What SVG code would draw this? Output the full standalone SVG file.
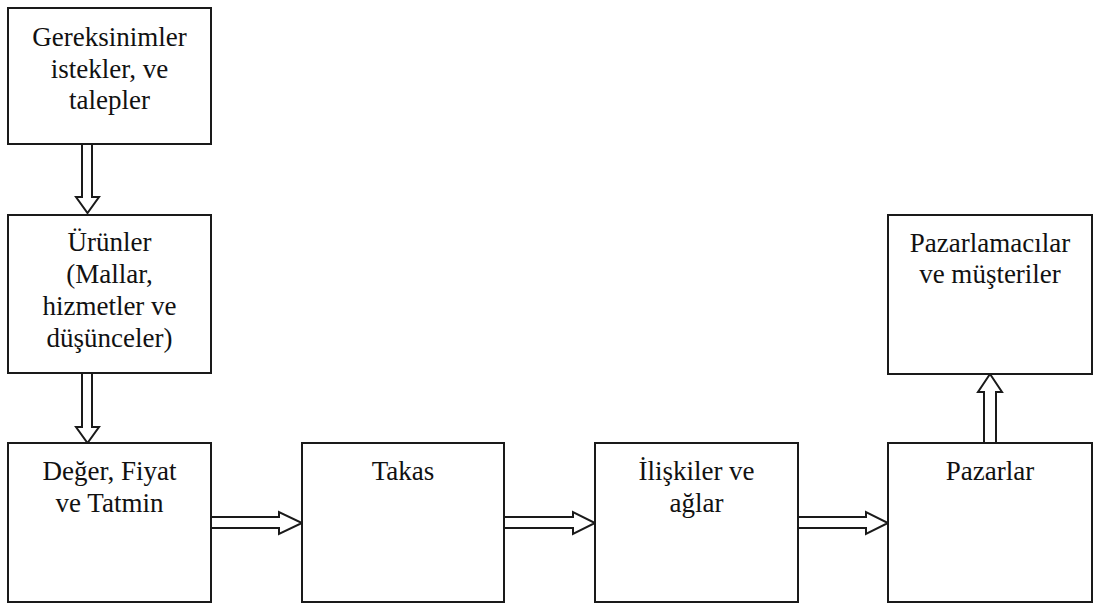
<svg xmlns="http://www.w3.org/2000/svg" width="1095" height="604" viewBox="0 0 1095 604">
  <style>
    .box { fill: #ffffff; stroke: #1a1a1a; stroke-width: 2; }
    .arrow { fill: #ffffff; stroke: #1a1a1a; stroke-width: 2; stroke-linejoin: miter; }
    .label { font-family: 'Liberation Serif', 'Times New Roman', Tinos, 'DejaVu Serif', serif; font-size: 27px; fill: #111111; text-anchor: middle; }
  </style>
  <rect width="1095" height="604" fill="#ffffff"/>

  <!-- hollow block arrows between the boxes -->
  <g id="connectors">
    <polygon class="arrow" points="82,144 92,144 92,197 99,197 87.5,213 76,197 82,197"/>
    <polygon class="arrow" points="82,373 92,373 92,427 99,427 87.5,443 76,427 82,427"/>
    <polygon class="arrow" points="211,517 279,517 279,512 302,523 279,534 279,528 211,528"/>
    <polygon class="arrow" points="504,517 573,517 573,512 595,523 573,534 573,528 504,528"/>
    <polygon class="arrow" points="798,517 866,517 866,512 888,523 866,534 866,528 798,528"/>
    <polygon class="arrow" points="984,443 984,392 978,392 990,374 1002,392 996,392 996,443"/>
  </g>

  <g id="needs">
    <rect class="box" x="8" y="8" width="203" height="136"/>
    <text class="label" x="109.5" y="46">Gereksinimler</text>
    <text class="label" x="109.5" y="78">istekler, ve</text>
    <text class="label" x="109.5" y="109">talepler</text>
  </g>

  <g id="products">
    <rect class="box" x="8" y="215" width="203" height="158"/>
    <text class="label" x="109.5" y="251">Ürünler</text>
    <text class="label" x="109.5" y="283">(Mallar,</text>
    <text class="label" x="109.5" y="315">hizmetler ve</text>
    <text class="label" x="109.5" y="347">düşünceler)</text>
  </g>

  <g id="value">
    <rect class="box" x="8" y="443" width="203" height="159"/>
    <text class="label" x="109.5" y="480">Değer, Fiyat</text>
    <text class="label" x="109.5" y="512">ve Tatmin</text>
  </g>

  <g id="exchange">
    <rect class="box" x="302" y="443" width="202" height="159"/>
    <text class="label" x="403" y="480">Takas</text>
  </g>

  <g id="relations">
    <rect class="box" x="595" y="443" width="203" height="159"/>
    <text class="label" x="696.5" y="480">İlişkiler ve</text>
    <text class="label" x="696.5" y="512">ağlar</text>
  </g>

  <g id="markets">
    <rect class="box" x="888" y="443" width="204" height="159"/>
    <text class="label" x="990" y="480">Pazarlar</text>
  </g>

  <g id="marketers">
    <rect class="box" x="888" y="215" width="204" height="159"/>
    <text class="label" x="990" y="252">Pazarlamacılar</text>
    <text class="label" x="990" y="283">ve müşteriler</text>
  </g>
</svg>
